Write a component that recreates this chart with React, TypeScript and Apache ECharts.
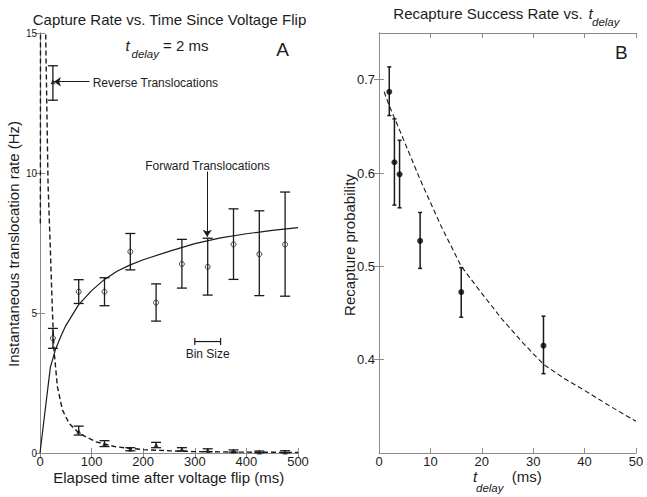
import React, { useEffect, useRef } from 'react';
import * as echarts from 'echarts';

// ---------- Panel A data ----------
const binCenters = [25, 75, 125, 175, 225, 275, 325, 375, 425, 475];
const forwardRate = [4.1, 5.76, 5.76, 7.19, 5.37, 6.75, 6.65, 7.45, 7.1, 7.45];
const forwardLow = [3.74, 5.34, 5.26, 6.54, 4.71, 5.89, 5.64, 6.2, 5.62, 5.6];
const forwardHigh = [4.45, 6.19, 6.26, 7.84, 6.04, 7.63, 7.67, 8.72, 8.65, 9.32];

const reverseRate = [13.26, 0.78, 0.32, 0.14, 0.29, 0.13, 0.1, 0.07, 0.04, 0.04];
const reverseLow = [12.6, 0.64, 0.23, 0.08, 0.19, 0.07, 0.05, 0.03, 0.01, 0.01];
const reverseHigh = [13.83, 0.96, 0.44, 0.19, 0.38, 0.19, 0.15, 0.11, 0.07, 0.08];

const fitForwardT = [0, 20, 30, 40, 50, 75, 100, 125, 150, 175, 200, 250, 300, 350, 400, 450, 500];
const fitForwardRate = [0, 3.05, 3.7, 4.15, 4.55, 5.3, 5.8, 6.2, 6.5, 6.72, 6.9, 7.2, 7.48, 7.68, 7.83, 7.95, 8.05];

const fitReverseT = [0.7, 1.0, 4, 8, 11, 15.6, 20, 24, 27.2, 33.7, 43.4, 56.4, 75.9, 108, 147, 200, 250, 300, 400, 500];
const fitReverseRate = [8.2, 16, 40, 30, 15, 9.6, 7.3, 5.1, 3.65, 2.37, 1.54, 1.06, 0.7, 0.4, 0.22, 0.12, 0.08, 0.05, 0.03, 0.02];

const binSizeBar = [300, 350, 3.98];

const panelAXTicks = [0, 500, 100];
const panelAYTicks = [0, 15, 5];

// ---------- Panel B data ----------
const tDelay = [2, 3, 4, 8, 16, 32];
const recapture = [0.687, 0.6115, 0.5986, 0.5272, 0.4724, 0.415];
const recaptureLow = [0.6616, 0.5656, 0.5627, 0.4978, 0.4455, 0.385];
const recaptureHigh = [0.7137, 0.658, 0.635, 0.5577, 0.4986, 0.4466];

const fitDelayT = [1, 2, 3, 4, 8, 12, 16, 20, 24, 28, 32, 36, 40, 45, 50];
const fitDelayP = [0.687, 0.672, 0.659, 0.646, 0.593, 0.544, 0.5, 0.471, 0.443, 0.418, 0.395, 0.38, 0.367, 0.35, 0.334];

const panelBYLabels = [0.4, 0.5, 0.6, 0.7];

const FONT = 'Liberation Sans, Arial, Helvetica, sans-serif';
const AXIS = '#8c8c8c';
const TXT = '#1c1c1c';
const INK = '#1a1a1a';

function zip(a: number[], b: number[]) {
  return a.map((v, i) => [v, b[i]]);
}

function errorBars(cap: number, width: number) {
  return (params: any, api: any) => {
    const x = api.value(0);
    const lo = api.coord([x, api.value(1)]);
    const hi = api.coord([x, api.value(2)]);
    const st = { stroke: INK, lineWidth: width };
    return {
      type: 'group',
      children: [
        { type: 'line', shape: { x1: lo[0], y1: lo[1], x2: hi[0], y2: hi[1] }, style: st },
        { type: 'line', shape: { x1: lo[0] - cap, y1: lo[1], x2: lo[0] + cap, y2: lo[1] }, style: st },
        { type: 'line', shape: { x1: hi[0] - cap, y1: hi[1], x2: hi[0] + cap, y2: hi[1] }, style: st },
      ],
    };
  };
}

function axisCommon(extra: any) {
  return {
    axisLine: { show: true, lineStyle: { color: AXIS, width: 1 } },
    axisTick: { show: true, inside: true, length: 5, lineStyle: { color: AXIS } },
    splitLine: { show: false },
    ...extra,
  };
}

function text(x: number, y: number, s: string, size: number, opts: any = {}) {
  return {
    type: 'text',
    x,
    y,
    rotation: opts.rotation || 0,
    style: {
      text: s,
      font: `${opts.italic ? 'italic ' : ''}${size}px ${FONT}`,
      fill: TXT,
      textAlign: opts.align || 'left',
      textVerticalAlign: 'middle',
    },
  };
}

export default function App() {
  const ref = useRef<HTMLDivElement>(null);
  useEffect(() => {
    const chart = echarts.init(ref.current!, null, { renderer: 'svg' });
    const option: any = {
      animation: false,
      backgroundColor: '#fff',
      grid: [
        { left: 40, top: 33, width: 258, height: 420 },
        { left: 379, top: 33, width: 257, height: 420 },
      ],
      xAxis: [
        axisCommon({
          type: 'value', gridIndex: 0, position: 'bottom',
          min: panelAXTicks[0], max: panelAXTicks[1], interval: panelAXTicks[2],
          axisLabel: { fontSize: 13, color: TXT, fontFamily: FONT, margin: 2 },
        }),
        axisCommon({
          type: 'value', gridIndex: 0, position: 'top',
          min: panelAXTicks[0], max: panelAXTicks[1], interval: panelAXTicks[2],
          axisLabel: { show: false },
        }),
        axisCommon({
          type: 'value', gridIndex: 1, position: 'bottom', min: 0, max: 50, interval: 10,
          axisLabel: { fontSize: 13, color: TXT, fontFamily: FONT, margin: 2 },
        }),
        axisCommon({
          type: 'value', gridIndex: 1, position: 'top', min: 0, max: 50, interval: 10,
          axisLabel: { show: false },
        }),
      ],
      yAxis: [
        axisCommon({
          type: 'value', gridIndex: 0, position: 'left',
          min: panelAYTicks[0], max: panelAYTicks[1], interval: panelAYTicks[2],
          axisLabel: { fontSize: 10, color: TXT, fontFamily: FONT, margin: 3 },
        }),
        axisCommon({
          type: 'value', gridIndex: 0, position: 'right',
          min: panelAYTicks[0], max: panelAYTicks[1], interval: panelAYTicks[2],
          axisLabel: { show: false },
        }),
        axisCommon({
          type: 'value', gridIndex: 1, position: 'left', min: 0.3, max: 0.75,
          axisTick: { show: true, inside: true, length: 5, lineStyle: { color: AXIS }, customValues: panelBYLabels },
          axisLabel: {
            fontSize: 13, color: TXT, fontFamily: FONT, margin: 4, customValues: panelBYLabels,
            formatter: (v: number) => v.toFixed(1),
          },
        }),
        axisCommon({
          type: 'value', gridIndex: 1, position: 'right', min: 0.3, max: 0.75,
          axisTick: { show: true, inside: true, length: 5, lineStyle: { color: AXIS }, customValues: panelBYLabels },
          axisLabel: { show: false, customValues: panelBYLabels },
        }),
      ],
      series: [
        {
          type: 'line', xAxisIndex: 0, yAxisIndex: 0, data: zip(fitForwardT, fitForwardRate),
          symbol: 'none', smooth: false, lineStyle: { color: INK, width: 1.2 }, z: 2,
        },
        {
          type: 'line', xAxisIndex: 0, yAxisIndex: 0, data: zip(fitReverseT, fitReverseRate),
          symbol: 'none', clip: true, lineStyle: { color: INK, width: 1.4, type: [5, 3] }, z: 2,
        },
        {
          type: 'custom', xAxisIndex: 0, yAxisIndex: 0,
          data: binCenters.map((x, i) => [x, forwardLow[i], forwardHigh[i]]),
          encode: { x: 0, y: [1, 2] }, renderItem: errorBars(5, 1.3), z: 3,
        },
        {
          type: 'custom', xAxisIndex: 0, yAxisIndex: 0,
          data: binCenters.map((x, i) => [x, reverseLow[i], reverseHigh[i]]),
          encode: { x: 0, y: [1, 2] }, renderItem: errorBars(5, 1.3), z: 3,
        },
        {
          type: 'scatter', xAxisIndex: 0, yAxisIndex: 0, data: zip(binCenters, forwardRate),
          symbol: 'circle', symbolSize: 5,
          itemStyle: { color: 'rgba(255,255,255,0)', borderColor: INK, borderWidth: 1 }, z: 4,
          markLine: {
            silent: true, symbol: ['none', 'arrow'], symbolSize: 7,
            label: { show: false },
            lineStyle: { color: INK, width: 1, type: 'solid' },
            data: [[{ coord: [324, 10.05] }, { coord: [324, 7.72] }]],
          },
        },
        {
          type: 'scatter', xAxisIndex: 0, yAxisIndex: 0, data: zip(binCenters, reverseRate),
          symbol: 'triangle', symbolSize: 5, itemStyle: { color: INK }, z: 4,
          markLine: {
            silent: true, symbol: ['none', 'arrow'], symbolSize: 7,
            label: { show: false },
            lineStyle: { color: INK, width: 1, type: 'solid' },
            data: [[{ coord: [96, 13.26] }, { coord: [27, 13.26] }]],
          },
        },
        {
          type: 'custom', xAxisIndex: 0, yAxisIndex: 0, data: [binSizeBar],
          encode: { x: [0, 1], y: 2 },
          renderItem: (params: any, api: any) => {
            const a = api.coord([api.value(0), api.value(2)]);
            const b = api.coord([api.value(1), api.value(2)]);
            const st = { stroke: INK, lineWidth: 1.2 };
            return {
              type: 'group',
              children: [
                { type: 'line', shape: { x1: a[0], y1: a[1], x2: b[0], y2: b[1] }, style: st },
                { type: 'line', shape: { x1: a[0], y1: a[1] - 3.5, x2: a[0], y2: a[1] + 3.5 }, style: st },
                { type: 'line', shape: { x1: b[0], y1: b[1] - 3.5, x2: b[0], y2: b[1] + 3.5 }, style: st },
              ],
            };
          },
        },
        // Panel B
        {
          type: 'line', xAxisIndex: 2, yAxisIndex: 2, data: zip(fitDelayT, fitDelayP),
          symbol: 'none', lineStyle: { color: INK, width: 1.1, type: [5, 3] }, z: 2,
        },
        {
          type: 'custom', xAxisIndex: 2, yAxisIndex: 2,
          data: tDelay.map((x, i) => [x, recaptureLow[i], recaptureHigh[i]]),
          encode: { x: 0, y: [1, 2] }, renderItem: errorBars(2, 1.5), z: 3,
        },
        {
          type: 'scatter', xAxisIndex: 2, yAxisIndex: 2, data: zip(tDelay, recapture),
          symbol: 'circle', symbolSize: 6, itemStyle: { color: '#000' }, z: 4,
        },
      ],
      graphic: [
        text(169.5, 19.5, 'Capture Rate vs. Time Since Voltage Flip', 15, { align: 'center' }),
        text(393.3, 13, 'Recapture Success Rate vs. ', 15),
        text(588.5, 13, 't', 15, { italic: true }),
        text(592, 21.5, 'delay', 11.5, { italic: true }),
        text(125.5, 45, 't', 15, { italic: true }),
        text(131.5, 54, 'delay', 11.5, { italic: true }),
        text(163, 45, '= 2 ms', 15),
        text(282.7, 49.5, 'A', 19, { align: 'center' }),
        text(621.3, 52.5, 'B', 19, { align: 'center' }),
        text(92.7, 82.7, 'Reverse Translocations', 12),
        text(207.5, 166, 'Forward Translocations', 12, { align: 'center' }),
        text(207.7, 354, 'Bin Size', 12, { align: 'center' }),
        text(168.7, 477.7, 'Elapsed time after voltage flip (ms)', 15, { align: 'center' }),
        text(473, 476, 't', 15, { italic: true }),
        text(476, 487.5, 'delay', 11.5, { italic: true }),
        text(511.7, 476, '(ms)', 15),
        text(13.3, 244, 'Instantaneous translocation rate (Hz)', 15, { align: 'center', rotation: Math.PI / 2 }),
        text(349, 245, 'Recapture probability', 15, { align: 'center', rotation: Math.PI / 2 }),
      ],
    };
    chart.setOption(option);
    return () => chart.dispose();
  }, []);
  return (
    <div
      ref={ref}
      style={{ position: 'absolute', left: 0, top: 0, width: 647, height: 497, background: '#fff' }}
    />
  );
}
